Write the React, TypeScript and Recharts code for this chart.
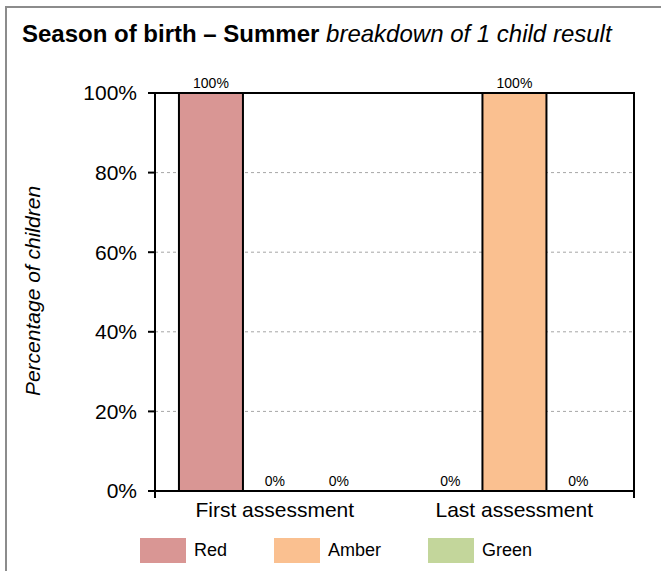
import { Bar, BarChart, CartesianGrid, LabelList, ReferenceArea, XAxis, YAxis } from "recharts"

const CATEGORIES = ["First assessment", "Last assessment"]
const RED = [100, 0]
const AMBER = [0, 100]
const GREEN = [0, 0]
const Y_TICKS = [0, 20, 40, 60, 80, 100]

const SERIES = [
  { key: "red", name: "Red", color: "#d99694" },
  { key: "amber", name: "Amber", color: "#fac090" },
  { key: "green", name: "Green", color: "#c3d69b" },
]

// category edges, used for the tick marks between groups
const EDGES = [...CATEGORIES.map((_, i) => i), CATEGORIES.length]

const data = CATEGORIES.map((name, i) => ({
  name,
  red: RED[i],
  amber: AMBER[i],
  green: GREEN[i],
}))

const FONT = '"Liberation Sans", Arial, sans-serif'
const pct = (v: number) => `${v}%`

export default function App() {
  return (
    <div
      style={{
        position: "absolute",
        left: 0,
        top: 0,
        width: 661,
        height: 571,
        overflow: "hidden",
        background: "#fff",
        fontFamily: FONT,
      }}
    >
      <div
        style={{
          position: "absolute",
          left: 5,
          top: 6,
          width: 720,
          height: 640,
          border: "2px solid #8c8c8c",
        }}
      />
      <div
        style={{
          position: "absolute",
          left: 22,
          top: 22,
          fontSize: 24,
          lineHeight: "24px",
          whiteSpace: "nowrap",
          color: "#000",
        }}
      >
        <b>Season of birth – Summer</b> <i>breakdown of 1 child result</i>
      </div>
      <div
        style={{
          position: "absolute",
          left: 33,
          top: 291,
          transform: "translate(-50%, -50%) rotate(-90deg)",
          fontSize: 21,
          fontStyle: "italic",
          whiteSpace: "nowrap",
          color: "#000",
        }}
      >
        Percentage of children
      </div>

      <div style={{ position: "absolute", left: 0, top: 0 }}>
        <BarChart
          width={661}
          height={571}
          data={data}
          margin={{ top: 93, right: 27, left: 0, bottom: 40 }}
          barCategoryGap="10%"
          barGap={0}
        >
          <CartesianGrid
            xAxisId="b_cat"
            vertical={false}
            stroke="#a6a6a6"
            strokeDasharray="3 3"
          />
          <XAxis
            xAxisId="a_edges"
            type="number"
            domain={[0, CATEGORIES.length]}
            ticks={EDGES}
            allowDataOverflow
            tickFormatter={() => ""}
            tickSize={7}
            tickMargin={0}
            tickLine={{ stroke: "#000", strokeWidth: 2 }}
            axisLine={{ stroke: "#000", strokeWidth: 2 }}
            height={1}
          />
          <XAxis
            xAxisId="b_cat"
            dataKey="name"
            axisLine={false}
            tickLine={false}
            tickSize={0}
            tickMargin={10}
            tick={{ fill: "#000", fontSize: 21, fontFamily: FONT }}
            height={39}
          />
          <YAxis
            width={155}
            domain={[0, 100]}
            ticks={Y_TICKS}
            tickFormatter={pct}
            tickSize={7}
            tickMargin={11}
            tickLine={{ stroke: "#000", strokeWidth: 2 }}
            axisLine={{ stroke: "#000", strokeWidth: 2 }}
            tick={{ fill: "#000", fontSize: 21, fontFamily: FONT }}
          />
          {SERIES.map((s) => (
            <Bar
              key={s.key}
              xAxisId="b_cat"
              dataKey={s.key}
              name={s.name}
              fill={s.color}
              stroke="#000"
              strokeWidth={2}
              minPointSize={0.01}
              isAnimationActive={false}
            >
              <LabelList
                dataKey={s.key}
                position="top"
                formatter={(v: any) => pct(Number(v))}
                style={{ fill: "#000", fontSize: 14, fontFamily: FONT }}
              />
            </Bar>
          ))}
          <ReferenceArea
            xAxisId="b_cat"
            y1={0}
            y2={100}
            fill="none"
            stroke="#000"
            strokeWidth={2}
          />
        </BarChart>
      </div>

      <div
        style={{
          position: "absolute",
          left: 140,
          top: 538,
          display: "flex",
          alignItems: "center",
          gap: 47,
          fontSize: 18,
          color: "#000",
        }}
      >
        {SERIES.map((s) => (
          <div key={s.key} style={{ display: "flex", alignItems: "center", gap: 8 }}>
            <div style={{ width: 46, height: 25, background: s.color }} />
            <span>{s.name}</span>
          </div>
        ))}
      </div>
    </div>
  )
}
